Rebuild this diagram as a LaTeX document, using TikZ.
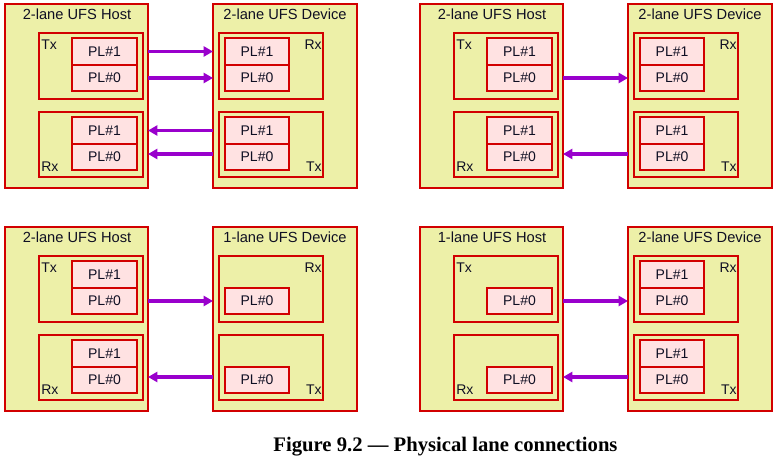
\documentclass[tikz,border=0pt]{standalone}
\usepackage{fontspec}
\setmainfont{Liberation Sans}
\newfontfamily\capfont{Liberation Serif}
\usetikzlibrary{arrows.meta}
\definecolor{boxfill}{RGB}{237,240,168}
\definecolor{plfill}{RGB}{255,226,226}
\definecolor{redline}{RGB}{210,0,0}
\definecolor{arrowc}{RGB}{153,0,204}
\definecolor{txt}{RGB}{15,15,35}
\tikzset{
  big/.style={draw=redline, fill=boxfill, line width=1pt, inner sep=0pt, outer sep=0pt},
  sub/.style={draw=redline, line width=1pt, inner sep=0pt, outer sep=0pt},
  pl/.style={draw=redline, fill=plfill, line width=1pt, inner sep=0pt, outer sep=0pt, text=txt, font=\fontsize{10.5}{12}\selectfont},
  ttl/.style={text=txt, font=\fontsize{11}{13}\selectfont, inner sep=0pt},
  lbl/.style={text=txt, font=\fontsize{10.5}{12}\selectfont, inner sep=0pt},
  arr/.style={draw=arrowc, line width=2.4pt, -{Triangle[length=7pt,width=7.5pt]}},
}
% style, name, x1, y1, x2, y2, text
\newcommand\rbox[7]{%
  \node[#1, anchor=north west, minimum width={(#5-#3)*0.75pt}, minimum height={(#6-#4)*0.75pt}] (#2) at (#3,#4) {#7};}
% dx, dy, prefix, hostlanes, devlanes, hosttitle, devtitle, arrows
\newcommand\upanel[8]{%
\begin{scope}[shift={(#1,#2)}]
  \rbox{big}{#3h}{5}{4}{148}{188}{}
  \node[ttl, anchor=base] (#3ht) at (77,19.5) {#6};
  \rbox{sub}{#3htx}{39}{33}{143}{99}{}
  \rbox{sub}{#3hrx}{39}{112}{143}{177}{}
  \node[lbl, anchor=base west] (#3htxl) at (41,49.5) {Tx};
  \node[lbl, anchor=base west] (#3hrxl) at (41,171.5) {Rx};
  \ifnum#4=2
    \rbox{pl}{#3htp1}{72}{38}{137}{65}{PL\#1}
    \rbox{pl}{#3hrp1}{72}{117}{137}{144}{PL\#1}
  \fi
  \rbox{pl}{#3htp0}{72}{65}{137}{91}{PL\#0}
  \rbox{pl}{#3hrp0}{72}{144}{137}{170}{PL\#0}
  \rbox{big}{#3d}{213}{4}{357}{188}{}
  \node[ttl, anchor=base] (#3dt) at (285,19.5) {#7};
  \rbox{sub}{#3drx}{219}{33}{323}{99}{}
  \rbox{sub}{#3dtx}{219}{112}{323}{177}{}
  \node[lbl, anchor=base east] (#3drxl) at (322,49.5) {Rx};
  \node[lbl, anchor=base east] (#3dtxl) at (322,171.5) {Tx};
  \ifnum#5=2
    \rbox{pl}{#3drp1}{225}{38}{289}{65}{PL\#1}
    \rbox{pl}{#3dtp1}{225}{117}{289}{144}{PL\#1}
  \fi
  \rbox{pl}{#3drp0}{225}{65}{289}{91}{PL\#0}
  \rbox{pl}{#3dtp0}{225}{144}{289}{170}{PL\#0}
  \ifnum#8=2
    \draw[arr] (#3htp1.east -| #3h.east) -- (#3htp1.east -| #3d.west);
    \draw[arr] (#3dtp1.west -| #3d.west) -- (#3dtp1.west -| #3h.east);
  \fi
  \draw[arr] (#3htp0.east -| #3h.east) -- (#3htp0.east -| #3d.west);
  \draw[arr] ([yshift=2.25pt]#3dtp0.west -| #3d.west) -- ([yshift=2.25pt]#3dtp0.west -| #3h.east);
\end{scope}}
\begin{document}
\begin{tikzpicture}[x=0.75pt, y=-0.75pt]
\useasboundingbox (0,0) rectangle (777,459);
\upanel{0}{0}{a}{2}{2}{2-lane UFS Host}{2-lane UFS Device}{2}
\upanel{415}{0}{b}{2}{2}{2-lane UFS Host}{2-lane UFS Device}{1}
\upanel{0}{223}{c}{2}{1}{2-lane UFS Host}{1-lane UFS Device}{1}
\upanel{415}{223}{d}{1}{2}{1-lane UFS Host}{2-lane UFS Device}{1}
\node[anchor=base, inner sep=0pt, font=\capfont\bfseries\fontsize{15.5}{18}\selectfont] (cap) at (445.5,451) {Figure 9.2 — Physical lane connections};
\end{tikzpicture}
\end{document}
